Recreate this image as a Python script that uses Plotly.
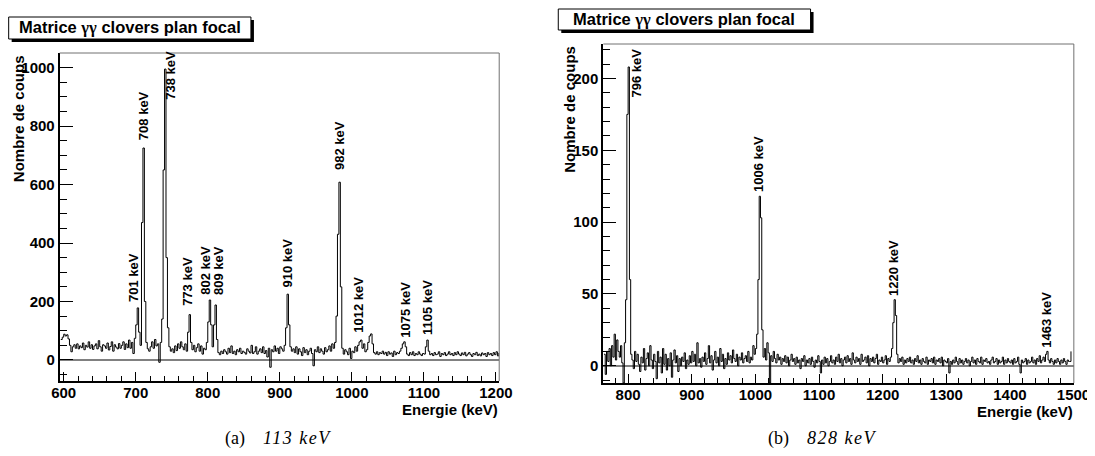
import numpy as np
import plotly.graph_objects as go

# ---------------------------------------------------------------
# Data: gamma spectra, 2 keV bins (counts)
# ---------------------------------------------------------------
bin_width = 2

# (a) gate 113 keV, first bin at 596 keV
left_start = 596
left_counts = [
    70, 78, 88, 82, 86, 72, 50, 28, 45, 52,      # 596
    40, 55, 38, 48, 42, 58, 35, 50, 44, 62,      # 616
    40, 52, 36, 48, 55, 38, 66, 45, 30, 52,      # 636
    48, 40, 58, 34, 46, 62, 30, 52, 44, 38,      # 656
    56, 40, 50, 62, 36, 55, 42, 68, 40, 60,      # 676
    22, 74, 120, 178, 95, 50, 470, 725, 200, 60, # 696
    38, 30, 45, 62, 40, 70, 48, 55, -8, 60,      # 716
    140, 650, 995, 350, 110, 45, 30, 38, 25, 48, # 736
    32, 55, 40, 62, 45, 35, 55, 30, 95, 155,     # 756
    60, 35, 50, 28, 42, 55, 30, 48, 20, 40,      # 776
    35, 60, 130, 205, 120, 45, 120, 188, 70, 25, # 796
    18, 30, 22, 35, 28, 20, 40, 25, 48, 22,      # 816
    30, 18, 35, 28, 40, 22, 30, 26, 20, 38,      # 836
    30, 24, 50, 22, 28, 45, 20, 30, 38, 25,      # 856
    45, 22, 32, 10, 40, -25, 35, 28, 48, 30,     # 876
    40, 22, 45, 38, 30, 50, 110, 225, 120, 45,   # 896
    30, 38, 25, 45, 20, 38, 28, 15, 42, 25,      # 916
    35, 18, 30, 40, 22, -20, 35, 28, 45, 25,     # 936
    38, 30, 20, 42, 28, 35, 48, 30, 55, 40,      # 956
    60, 150, 430, 608, 250, 40, 20, 35, 28, 18,  # 976
    40, 5, 30, 25, 45, 30, 50, 62, 68, 40,       # 996
    55, 28, 35, 60, 82, 89, 55, 25, 20, 28,      # 1016
    18, 25, 22, 30, 20, 26, 15, 28, 20, 24,      # 1036
    12, 30, 18, 25, 22, 30, 40, 55, 62, 45,      # 1056
    20, 15, 25, 18, 28, 15, 22, 18, 28, 20,      # 1076
    15, 22, 20, 45, 68, 30, 18, 22, 15, 25,      # 1096
    18, 20, 28, 12, 22, 18, 25, 15, 20, 28,      # 1116
    18, 22, 15, 25, 18, 28, 20, 15, 24, 18,      # 1136
    26, 14, 20, 25, 18, 12, 22, 18, 26, 15,      # 1156
    20, 14, 24, 18, 22, 12, 25, 18, 22, 15,      # 1176
    25, 18, 28, 14, 24,                          # 1196
]

# (b) gate 828 keV, first bin at 762 keV
right_start = 762
right_counts = [
    8, -6, 10, 3, 12, 0, 14, 6, 22, 4,           # 762
    18, 10, 6, 14, 2, -12, 16, 46, 175, 208,     # 782
    60, 8, 4, -2, 10, 3, 8, 1, -4, 6,            # 802
    2, 12, -3, 5, 9, 0, 14, 4, -2, 8,            # 822
    3, -9, 10, 2, 6, -5, 12, 1, 8, -3,           # 842
    5, 0, 9, -8, 4, 11, 2, 7, -4, 5,             # 862
    0, 6, 3, 9, -2, 4, 1, 7, 2, 10,              # 882
    3, 8, 0, 16, 2, 5, -1, 6, 3, 9,              # 902
    1, 5, 14, 2, 7, -3, 4, 10, 2, 6,             # 922
    0, 12, 3, 8, -2, 5, 1, 9, 4, 7,              # 942
    2, 11, 5, 3, 8, 0, 6, 4, 9, 2,               # 962
    5, 7, 3, 10, 2, 6, 4, 14, 8, 12,             # 982
    22, 60, 118, 103, 25, 6, 12, 4, 16, 9,       # 1002
    -12, 7, 3, 10, 5, 2, 8, 4, 6, 1,             # 1022
    5, 3, 7, 2, 6, 0, 4, 8, 3, 5,                # 1042
    1, 6, 2, 4, -2, 5, 3, 7, 0, 4,               # 1062
    2, 5, 1, 6, 3, -1, 4, 2, 7, 3,               # 1082
    -5, 4, 1, 6, 2, 5, 0, 3, 7, 2,               # 1102
    4, 1, 6, 3, 8, 2, 5, 0, 4, 6,                # 1122
    2, 7, 3, 5, 1, 9, 4, 2, 6, 3,                # 1142
    5, 1, 8, 3, 4, 6, 2, 7, 0, 5,                # 1162
    3, 6, 2, 5, 8, 1, 4, 3, 6, 2,                # 1182
    4, 7, 1, 5, 3, 6, 12, 30, 46, 35,            # 1202
    8, 2, 5, 3, 6, 1, 4, 2, 5, 3,                # 1222
    6, 2, 4, 1, 5, 3, 7, 2, 4, 1,                # 1242
    5, 3, 2, 6, 1, 4, 3, 5, 2, 6,                # 1262
    1, 4, 3, 5, 2, 6, 0, 4, 3, 2,                # 1282
    5, -5, 3, 1, 4, 2, 6, 3, 1, 5,               # 1302
    2, 4, 1, 3, 5, 2, 4, 0, 3, 6,                # 1322
    2, 4, 1, 5, 3, 2, 6, 1, 4, 3,                # 1342
    5, 2, 3, 1, 4, 6, 2, 3, 5, 1,                # 1362
    4, 2, 3, 6, 1, 4, 2, 5, 3, 2,                # 1382
    4, 1, 5, 2, 3, 6, 1, -5, 4, 2,               # 1402
    3, 5, 1, 4, 2, 3, 6, 2, 4, 1,                # 1422
    5, 3, 7, 2, 4, 6, 3, 8, 10, 4,               # 1442
    2, 5, 3, 1, 4, 2, 5, 3, 1, 4,                # 1462
    2, 5, 3, 1, 4, 3, 3, 10,                     # 1482
]

# peak labels (text, energy where the label sits, count where it starts)
left_labels = ["701 keV", "708 keV", "738 keV", "773 keV", "802 keV", "809 keV",
               "910 keV", "982 keV", "1012 keV", "1075 keV", "1105 keV"]
left_label_e = [697, 710, 749, 772, 797, 814, 910, 982, 1010, 1074, 1104]
left_label_c = [195, 750, 885, 182, 220, 220, 243, 648, 90, 73, 83]

right_labels = ["796 keV", "1006 keV", "1220 keV", "1463 keV"]
right_label_e = [813, 1005, 1218, 1457]
right_label_c = [186, 120, 48, 12]

titles = ["Matrice <span style='font-family:Liberation Serif'>γγ</span> clovers plan focal"] * 2
captions = [("(a)", "113 keV"), ("(b)", "828 keV")]

# ---------------------------------------------------------------
# Layout helpers: target picture pixel -> paper coordinate.
# The body keeps an 8 px margin; a small horizontal correction
# measured on earlier renders is folded in.
# ---------------------------------------------------------------
W, H = 1095, 456
OFF = 8
FW, FH = 1120, H - 2 * OFF
SX, CX = 0.9775, 7.5


def px(x):
    page = (x - CX) / SX
    return (page - OFF) / FW


def py(y):
    return 1 - (y - OFF) / FH


SANS = "Liberation Sans, Arial, Helvetica, sans-serif"
SERIF = "Liberation Serif, Times New Roman, serif"
tick_font = dict(family=SANS, size=15, color="black", weight="bold")


def x_axis(dom, rng, anchor):
    return dict(domain=dom, range=rng, anchor=anchor, showgrid=False, zeroline=False,
                showline=True, linecolor="black", linewidth=2,
                ticks="inside", ticklen=9, tickwidth=1, tickcolor="black",
                tick0=0, dtick=100, tickfont=tick_font, ticklabelstandoff=-3,
                minor=dict(ticks="inside", dtick=20, ticklen=5, tickwidth=1, tickcolor="black"),
                fixedrange=True)


def y_axis(dom, rng, anchor, major, minor):
    return dict(domain=dom, range=rng, anchor=anchor, showgrid=False,
                zeroline=True, zerolinecolor="#808080", zerolinewidth=1.5,
                showline=True, linecolor="black", linewidth=2,
                ticks="inside", ticklen=13, tickwidth=1, tickcolor="black",
                tick0=0, dtick=major, tickfont=tick_font,
                minor=dict(ticks="inside", dtick=minor, ticklen=7, tickwidth=1, tickcolor="black"),
                fixedrange=True)


# plot frames in picture pixels: left, top, right, bottom
frame_a = (59, 53, 498, 381)
frame_b = (602, 44, 1072, 383)

fig = go.Figure()

left_x = left_start + bin_width * np.arange(len(left_counts))
right_x = right_start + bin_width * np.arange(len(right_counts))

fig.add_trace(go.Scatter(x=left_x, y=left_counts, mode="lines",
                         line=dict(color="black", width=1, shape="hv"),
                         xaxis="x", yaxis="y", hoverinfo="skip", showlegend=False))
fig.add_trace(go.Scatter(x=right_x, y=right_counts, mode="lines",
                         line=dict(color="black", width=1, shape="hv"),
                         xaxis="x2", yaxis="y2", hoverinfo="skip", showlegend=False))

shapes = []
annotations = []

for (l, t, r, b) in (frame_a, frame_b):
    # grey top and right frame lines
    shapes.append(dict(type="line", xref="paper", yref="paper", x0=px(l), x1=px(r), y0=py(t), y1=py(t),
                       line=dict(color="#707070", width=1)))
    shapes.append(dict(type="line", xref="paper", yref="paper", x0=px(r), x1=px(r), y0=py(t), y1=py(b),
                       line=dict(color="#707070", width=1)))

# title boxes with shadow
for (l, t, r, b), title in zip([(8, 17, 250, 39), (557, 9, 809, 30)], titles):
    shapes.append(dict(type="rect", xref="paper", yref="paper", x0=px(l + 3), x1=px(r + 3),
                       y0=py(t + 3), y1=py(b + 3), fillcolor="black", line=dict(width=0)))
    shapes.append(dict(type="rect", xref="paper", yref="paper", x0=px(l), x1=px(r),
                       y0=py(t), y1=py(b), fillcolor="white", line=dict(color="black", width=1)))
    annotations.append(dict(text=title, xref="paper", yref="paper", x=px((l + r) / 2), y=py((t + b) / 2),
                            xanchor="center", yanchor="middle", showarrow=False,
                            font=dict(family=SANS, size=16.5, color="black", weight="bold")))

# axis titles
for (l, t, r, b), ytx in zip((frame_a, frame_b), (18, 568)):
    annotations.append(dict(text="Nombre de coups", xref="paper", yref="paper", x=px(ytx), y=py(t),
                            xanchor="center", yanchor="top", textangle=-90, showarrow=False,
                            font=dict(family=SANS, size=15, color="black", weight="bold")))
    annotations.append(dict(text="Energie (keV)", xref="paper", yref="paper", x=px(r + 1), y=py(b + 28),
                            xanchor="right", yanchor="middle", showarrow=False,
                            font=dict(family=SANS, size=15, color="black", weight="bold")))

# peak labels
for txts, es, cs, xr, yr in ((left_labels, left_label_e, left_label_c, "x", "y"),
                             (right_labels, right_label_e, right_label_c, "x2", "y2")):
    for txt, e, c in zip(txts, es, cs):
        annotations.append(dict(text=txt, xref=xr, yref=yr, x=e, y=c, xanchor="center", yanchor="bottom",
                                textangle=-90, showarrow=False, borderpad=0,
                                font=dict(family=SANS, size=13, color="black", weight="bold")))

# sub-figure captions: "(a)" upright, energy in italic
for cx, (tag, energy) in zip((277, 820), captions):
    cap = tag + "\u2003<i><span style='letter-spacing:1.5px'>" + energy + "</span></i>"
    annotations.append(dict(text=cap, xref="paper", yref="paper", x=px(cx), y=py(438),
                            xanchor="center", yanchor="middle", showarrow=False,
                            font=dict(family=SERIF, size=18, color="black")))

fig.update_layout(
    width=FW, height=FH,
    margin=dict(l=0, r=0, t=0, b=0),
    paper_bgcolor="white", plot_bgcolor="white",
    xaxis=x_axis([px(frame_a[0]), px(frame_a[2])], [594.5, 1204.5], "y"),
    yaxis=y_axis([py(frame_a[3]), py(frame_a[1])], [-72, 1050], "x", 200, 50),
    xaxis2=x_axis([px(frame_b[0]), px(frame_b[2])], [761, 1500.5], "y2"),
    yaxis2=y_axis([py(frame_b[3]), py(frame_b[1])], [-12, 224], "x2", 50, 10),
    shapes=shapes,
    annotations=annotations,
    showlegend=False,
)

fig.write_html("out.html")
